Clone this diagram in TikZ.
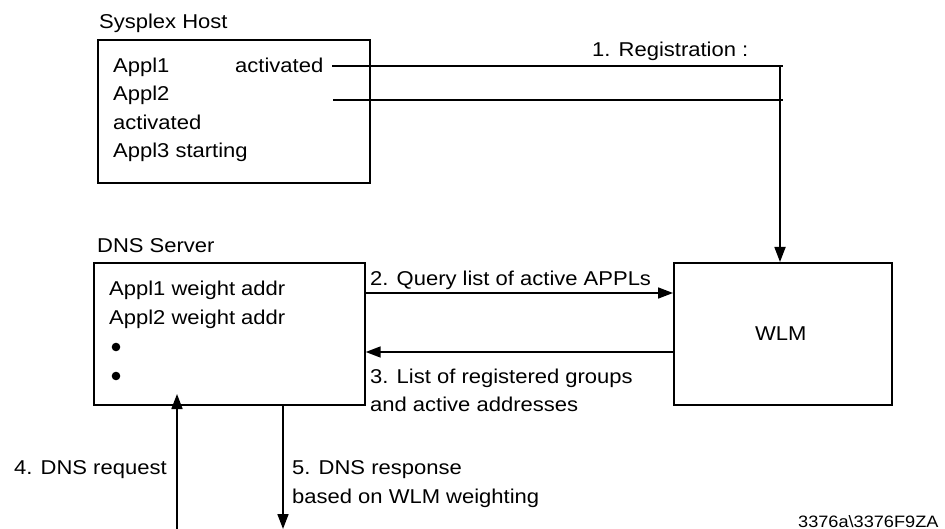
\documentclass[tikz,border=0pt]{standalone}
\usepackage{fontspec}
\setmainfont{Liberation Sans}[FakeStretch=1.1]
\usetikzlibrary{arrows.meta}
\begin{document}
\begin{tikzpicture}[x=1pt,y=-1pt,
  box/.style={draw,line width=1.7pt,rectangle,inner sep=0pt,anchor=north west},
  txt/.style={anchor=base west,inner sep=0pt,font=\fontsize{20}{28}\selectfont},
  small/.style={anchor=base west,inner sep=0pt,font=\fontsize{16.5}{20}\selectfont},
  conn/.style={line width=1.7pt},
  arr/.style={line width=1.7pt,-{Triangle[length=15pt,width=11pt]}}]
\useasboundingbox (0,0) rectangle (945,529);
% boxes
\node[box,minimum width=272pt,minimum height=143pt] (host) at (97,39) {};
\node[box,minimum width=271pt,minimum height=142pt] (dns) at (93,262) {};
\node[box,minimum width=218pt,minimum height=142pt] (wlm) at (673,262) {};
% labels
\node[txt] (hostlbl) at (99,29) {Sysplex Host};
\node[txt] (h1) at (113,73) {Appl1};
\node[txt] (h1b) at (235,73) {activated};
\node[txt] (h2) at (113,101) {Appl2};
\node[txt] (h3) at (113,130) {activated};
\node[txt] (h4) at (113,158) {Appl3 starting};
\node[txt] (reglbl) at (592,57) {1. Registration :};
\node[txt] (dnslbl) at (97,253) {DNS Server};
\node[txt] (d1) at (109,296) {Appl1 weight addr};
\node[txt] (d2) at (109,324) {Appl2 weight addr};
\fill (116,347) circle (4.3pt);
\fill (116,376) circle (4.3pt);
\node[txt] (wlmlbl) at (755,341) {WLM};
\node[txt] (qlbl) at (370,286) {2. Query list of active APPLs};
\node[txt] (l3a) at (370,383) {3. List of registered groups};
\node[txt] (l3b) at (370,411) {and active addresses};
\node[txt] (l4) at (14,474) {4. DNS request};
\node[txt] (l5a) at (292,474) {5. DNS response};
\node[txt] (l5b) at (292,503) {based on WLM weighting};
\node[small] (fig) at (798,527) {3376a\textbackslash 3376F9ZA};
% registration connectors
\coordinate (r1s) at (332,66);
\coordinate (r1e) at (783,66);
\coordinate (r2s) at (333,100);
\coordinate (r2e) at (783,100);
\coordinate (rv) at (780,66);
\draw[conn] (r1s) -- (r1e);
\draw[conn] (r2s) -- (r2e);
\draw[arr] (rv) -- (rv |- wlm.north);
% query / list
\coordinate (q) at (0,293);
\coordinate (l) at (0,352);
\draw[arr] (dns.east |- q) -- (wlm.west |- q);
\draw[arr] (wlm.west |- l) -- (dns.east |- l);
% dns request/response
\coordinate (reqs) at (177,529);
\coordinate (reqe) at (177,394);
\coordinate (resp) at (283,529);
\draw[arr] (reqs) -- (reqe);
\draw[arr] (dns.south -| resp) -- (resp);
\end{tikzpicture}
\end{document}
